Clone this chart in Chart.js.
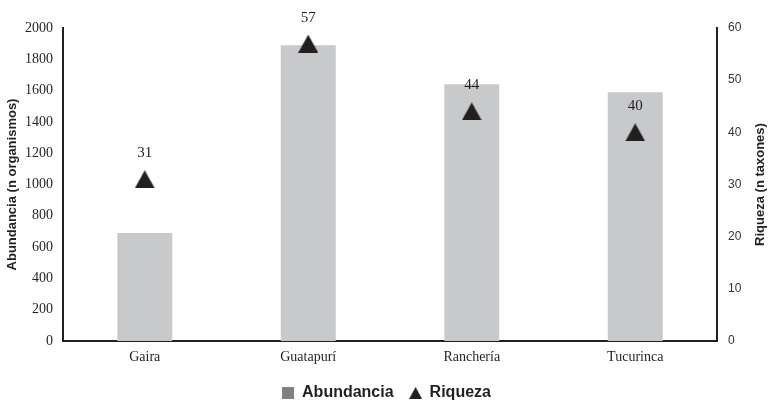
<!DOCTYPE html>
<html>
<head>
<meta charset="utf-8">
<script src="https://cdn.jsdelivr.net/npm/chart.js@4"></script>
<style>
html,body{margin:0;padding:0;background:#fff;}
#wrap{width:773px;height:419px;}
</style>
</head>
<body>
<div id="wrap"><canvas id="chart" width="773" height="419"></canvas></div>
<script>
const sites = ['Gaira', 'Guatapurí', 'Ranchería', 'Tucurinca'];
const abundancia = [690, 1890, 1640, 1590];
const riqueza = [31, 57, 44, 40];
const leftTicks = [0, 200, 400, 600, 800, 1000, 1200, 1400, 1600, 1800, 2000];
const rightTicks = [0, 10, 20, 30, 40, 50, 60];

const ink = '#231f20';

// triangle marker centred on its box (Chart.js' own triangle sits high)
function triangle(w, h) {
  const c = document.createElement('canvas');
  c.width = w; c.height = h;
  const g = c.getContext('2d');
  g.fillStyle = ink;
  g.beginPath();
  g.moveTo(w / 2, 0);
  g.lineTo(w, h);
  g.lineTo(0, h);
  g.closePath();
  g.fill();
  return c;
}
const markTri = triangle(20, 18);
const legendTri = triangle(13, 12);

// values above the triangles + right axis title (reads bottom to top)
const extras = {
  id: 'extras',
  afterDatasetsDraw(chart) {
    const ctx = chart.ctx;
    const meta = chart.getDatasetMeta(1);
    ctx.save();
    ctx.font = '15px "Liberation Serif"';
    ctx.fillStyle = ink;
    ctx.textAlign = 'center';
    ctx.textBaseline = 'middle';
    meta.data.forEach((pt, i) => {
      ctx.fillText(riqueza[i], pt.x, pt.y - 26);
    });
    const a = chart.chartArea;
    ctx.translate(760, (a.top + a.bottom) / 2);
    ctx.rotate(-Math.PI / 2);
    ctx.font = 'bold 13px "Liberation Sans"';
    ctx.fillText('Riqueza (n taxones)', 0, 0);
    ctx.restore();
  }
};

new Chart(document.getElementById('chart'), {
  data: {
    labels: sites,
    datasets: [{
      type: 'bar',
      label: 'Abundancia',
      data: abundancia,
      backgroundColor: '#c8c9cb',
      yAxisID: 'y',
      barPercentage: 0.336,
      categoryPercentage: 1,
      order: 2
    }, {
      type: 'line',
      label: 'Riqueza',
      data: riqueza,
      yAxisID: 'y1',
      showLine: false,
      pointStyle: markTri,
      pointRadius: 10,
      pointHoverRadius: 10,
      backgroundColor: ink,
      borderColor: ink,
      borderWidth: 0,
      order: 1
    }]
  },
  options: {
    responsive: false,
    animation: false,
    layout: {padding: {top: 28, right: 0, left: 0, bottom: 8}},
    plugins: {
      tooltip: {enabled: false},
      legend: {
        position: 'bottom',
        labels: {
          usePointStyle: true,
          pointStyleWidth: 12,
          boxHeight: 12,
          padding: 16,
          color: ink,
          font: {family: '"Liberation Sans"', size: 16, weight: 'bold'},
          generateLabels(chart) {
            return [{
              text: 'Abundancia', pointStyle: 'rect', fillStyle: '#808080',
              strokeStyle: '#808080', lineWidth: 0, datasetIndex: 0, fontColor: ink
            }, {
              text: 'Riqueza', pointStyle: legendTri, fillStyle: ink,
              strokeStyle: ink, lineWidth: 0, datasetIndex: 1, fontColor: ink
            }];
          }
        }
      }
    },
    scales: {
      x: {
        offset: true,
        grid: {display: false},
        border: {display: true, color: ink, width: 2},
        ticks: {
          color: ink, padding: 0,
          font: {family: '"Liberation Serif"', size: 14}
        },
        afterFit(s) { s.height = 28; }
      },
      y: {
        position: 'left',
        min: 0, max: 2000,
        afterBuildTicks(s) { s.ticks = leftTicks.map(v => ({value: v})); },
        grid: {display: false},
        border: {display: true, color: ink, width: 2},
        ticks: {
          color: ink, padding: 2,
          callback: v => String(v),
          font: {family: '"Liberation Serif"', size: 14}
        },
        title: {
          display: true, text: 'Abundancia (n organismos)', color: ink,
          padding: {top: 5, bottom: 0},
          font: {family: '"Liberation Sans"', size: 13, weight: 'bold'}
        },
        afterFit(s) { s.width = 63; }
      },
      y1: {
        position: 'right',
        min: 0, max: 60,
        afterBuildTicks(s) { s.ticks = rightTicks.map(v => ({value: v})); },
        grid: {display: false},
        border: {display: true, color: ink, width: 2},
        ticks: {
          color: '#333', padding: 3,
          callback: v => String(v),
          font: {family: '"Liberation Sans"', size: 12}
        },
        afterFit(s) { s.width = 56; }
      }
    }
  },
  plugins: [extras]
});
</script>
</body>
</html>
